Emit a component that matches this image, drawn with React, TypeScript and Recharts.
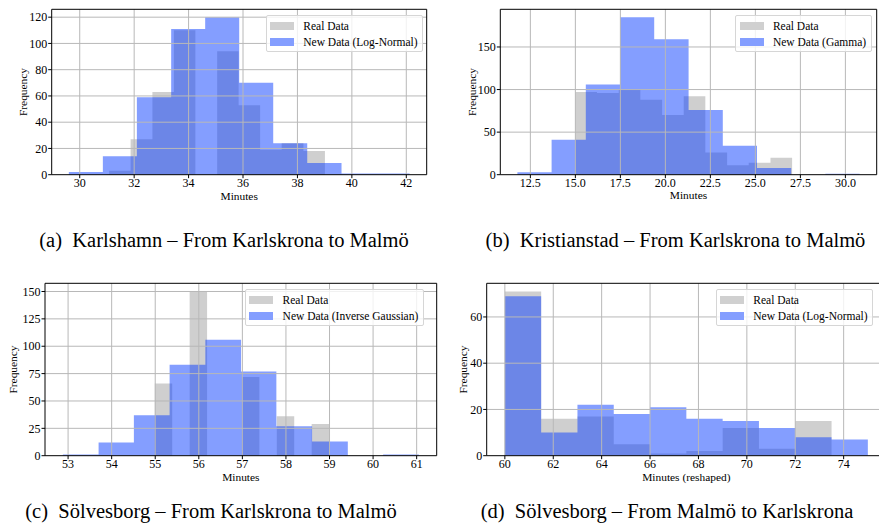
import React from 'react';
import { AreaChart, Area, XAxis, YAxis, ReferenceLine, Label } from 'recharts';

// ---------- data ----------
// (a) Karlshamn
const realEdgesA = [31.08, 31.87, 32.67, 33.46, 34.25, 35.05, 35.84, 36.63, 37.42, 38.22, 39.01];
const realCountsA = [3, 27, 63, 110, 0, 94, 53, 19, 24, 18];
const newEdgesA = [29.6, 30.85, 32.1, 33.36, 34.61, 35.86, 37.11, 38.36, 39.62, 40.87, 42.12];
const newCountsA = [2, 14, 59, 111, 120, 70, 24, 9, 1, 1];
const xTicksA = [30, 32, 34, 36, 38, 40, 42];
const yTicksA = [0, 20, 40, 60, 80, 100, 120];

// (b) Kristianstad
const realEdgesB = [15.0, 16.2, 17.41, 18.61, 19.82, 21.02, 22.22, 23.43, 24.63, 25.84, 27.04];
const realCountsB = [97, 96, 100, 88, 70, 92, 26, 11, 14, 20];
const newEdgesB = [11.78, 13.68, 15.58, 17.48, 19.38, 21.29, 23.19, 25.09, 26.99, 28.89, 30.79];
const newCountsB = [3, 41, 106, 185, 159, 76, 34, 8, 0, 1];
const xTicksB = [12.5, 15, 17.5, 20, 22.5, 25, 27.5, 30];
const yTicksB = [0, 50, 100, 150];

// (c) Sölvesborg – From Karlskrona to Malmö
const realEdgesC = [54.99, 55.39, 55.79, 56.19, 56.59, 56.99, 57.39, 57.79, 58.19, 58.59, 58.99];
const realCountsC = [66, 0, 150, 0, 0, 72, 0, 36, 0, 29];
const newEdgesC = [52.88, 53.7, 54.51, 55.33, 56.15, 56.97, 57.78, 58.6, 59.42, 60.23, 61.05];
const newCountsC = [1, 12, 37, 83, 106, 77, 27, 13, 0, 1];
const xTicksC = [53, 54, 55, 56, 57, 58, 59, 60, 61];
const yTicksC = [0, 25, 50, 75, 100, 125, 150];

// (d) Sölvesborg – From Malmö to Karlskrona
const realEdgesD = [60, 61.5, 63, 64.5, 66, 67.5, 69, 70.5, 72, 73.5, 75];
const realCountsD = [71, 16, 17, 5, 1, 2, 12, 3, 15, 0];
const newEdgesD = [60, 61.5, 63, 64.5, 66, 67.5, 69, 70.5, 72, 73.5, 75];
const newCountsD = [69, 10, 22, 18, 21, 16, 15, 12, 8, 7];
const xTicksD = [60, 62, 64, 66, 68, 70, 72, 74];
const yTicksD = [0, 20, 40, 60];

const captions = [
  '(a)\u00a0\u00a0Karlshamn \u2013 From Karlskrona to Malmö',
  '(b)\u00a0\u00a0Kristianstad \u2013 From Karlskrona to Malmö',
  '(c)\u00a0\u00a0Sölvesborg \u2013 From Karlskrona to Malmö',
  '(d)\u00a0\u00a0Sölvesborg \u2013 From Malmö to Karlskrona',
];

// ---------- helpers ----------
const FONT = '"Liberation Serif", "Times New Roman", "DejaVu Serif", serif';
const REAL_FILL = '#a0a0a0';
const NEW_FILL = '#0a3dff';
const REAL_SWATCH = '#d0d0d0';
const NEW_SWATCH = '#849eff';

function histData(rE: number[], rC: number[], nE: number[], nC: number[]) {
  const xs = Array.from(new Set([...rE, ...nE])).sort((a, b) => a - b);
  const val = (edges: number[], counts: number[], x: number) => {
    for (let i = 0; i < counts.length; i++) {
      if (x >= edges[i] && x < edges[i + 1]) return counts[i];
    }
    return 0;
  };
  return xs.map((x) => ({ x, real: val(rE, rC, x), synth: val(nE, nC, x) }));
}

type Cfg = {
  left: number; top: number; width: number; height: number;
  mt: number; mr: number; yw: number; xh: number;
  xDomain: [number, number]; yMax: number;
  xTicks: number[]; yTicks: number[];
  fmt?: (v: number) => string;
  xLabel: string; yLabelOff: number; xLabelOff: number;
  data: any[]; rightSpine: boolean;
  legend: { left: number; top: number; label: string };
};

const panels: Cfg[] = [
  {
    left: 0, top: 0, width: 440, height: 210, mt: 9.3, mr: 13.3, yw: 51.7, xh: 35.3,
    xDomain: [28.97, 42.75], yMax: 126, xTicks: xTicksA, yTicks: yTicksA,
    xLabel: 'Minutes', yLabelOff: 28.4, xLabelOff: 21,
    data: histData(realEdgesA, realCountsA, newEdgesA, newCountsA), rightSpine: true,
    legend: { left: 265.7, top: 15, label: 'New Data (Log-Normal)' },
  },
  {
    left: 440, top: 0, width: 439, height: 210, mt: 9.3, mr: 2.3, yw: 60.3, xh: 35.3,
    xDomain: [10.83, 31.74], yMax: 194.25, xTicks: xTicksB, yTicks: yTicksB,
    fmt: (v: number) => v.toFixed(1),
    xLabel: 'Minutes', yLabelOff: 28.6, xLabelOff: 20.5,
    data: histData(realEdgesB, realCountsB, newEdgesB, newCountsB), rightSpine: true,
    legend: { left: 735.3, top: 15, label: 'New Data (Gamma)' },
  },
  {
    left: 0, top: 270, width: 440, height: 226, mt: 13.3, mr: 3.3, yw: 45, xh: 40.3,
    xDomain: [52.47, 61.46], yMax: 157.5, xTicks: xTicksC, yTicks: yTicksC,
    xLabel: 'Minutes', yLabelOff: 31.7, xLabelOff: 21,
    data: histData(realEdgesC, realCountsC, newEdgesC, newCountsC), rightSpine: true,
    legend: { left: 245, top: 289.3, label: 'New Data (Inverse Gaussian)' },
  },
  {
    left: 440, top: 270, width: 460, height: 226, mt: 13.3, mr: 14, yw: 46.7, xh: 40.3,
    xDomain: [59.25, 75.75], yMax: 74.55, xTicks: xTicksD, yTicks: yTicksD,
    xLabel: 'Minutes (reshaped)', yLabelOff: 24, xLabelOff: 21,
    data: histData(realEdgesD, realCountsD, newEdgesD, newCountsD), rightSpine: true,
    legend: { left: 715.7, top: 289.3, label: 'New Data (Log-Normal)' },
  },
];

const tickStyle = { fontSize: 12, fill: '#000', fontFamily: FONT };
const labelStyle: React.CSSProperties = { fontSize: 11.4, fill: '#000', fontFamily: FONT };

function Panel({ c }: { c: Cfg }) {
  const xl = (props: any) => {
    const vb = props.viewBox || {};
    return (
      <text x={vb.x + vb.width / 2} y={vb.y + c.xLabelOff} textAnchor="middle" dominantBaseline="central" style={labelStyle}>
        {c.xLabel}
      </text>
    );
  };
  const yl = (props: any) => {
    const vb = props.viewBox || {};
    const x = vb.x + vb.width - c.yLabelOff;
    const y = vb.y + vb.height / 2;
    return (
      <text x={x} y={y} transform={`rotate(-90 ${x} ${y})`} textAnchor="middle" dominantBaseline="central" style={labelStyle}>
        Frequency
      </text>
    );
  };
  return (
    <div style={{ position: 'absolute', left: c.left, top: c.top }}>
      <AreaChart width={c.width} height={c.height} data={c.data} margin={{ top: c.mt, right: c.mr, bottom: 0, left: 0 }}>
        <XAxis
          type="number" dataKey="x" domain={c.xDomain} allowDataOverflow ticks={c.xTicks} interval={0}
          height={c.xh} tickSize={3.5} tickMargin={0} tick={tickStyle} tickFormatter={c.fmt}
          axisLine={{ stroke: '#000', strokeWidth: 1 }} tickLine={{ stroke: '#000' }}
        >
          <Label content={xl} />
        </XAxis>
        <YAxis
          type="number" domain={[0, c.yMax]} allowDataOverflow ticks={c.yTicks} interval={0}
          width={c.yw} tickSize={3.5} tickMargin={1} tick={tickStyle}
          axisLine={{ stroke: '#000', strokeWidth: 1 }} tickLine={{ stroke: '#000' }}
        >
          <Label content={yl} />
        </YAxis>
        <Area type="stepAfter" dataKey="real" fill={REAL_FILL} fillOpacity={0.5} stroke="none" isAnimationActive={false} dot={false} activeDot={false} />
        <Area type="stepAfter" dataKey="synth" fill={NEW_FILL} fillOpacity={0.5} stroke="none" isAnimationActive={false} dot={false} activeDot={false} />
        {c.xTicks.map((t) => (
          <ReferenceLine key={'gx' + t} x={t} stroke="#b8b8b8" strokeWidth={1} />
        ))}
        {c.yTicks.filter((t) => t > 0).map((t) => (
          <ReferenceLine key={'gy' + t} y={t} stroke="#b8b8b8" strokeWidth={1} />
        ))}
        <ReferenceLine y={c.yMax} stroke="#000" strokeWidth={1} />
        {c.rightSpine && <ReferenceLine x={c.xDomain[1]} stroke="#000" strokeWidth={1} />}
      </AreaChart>
    </div>
  );
}

function LegendBox({ left, top, label }: { left: number; top: number; label: string }) {
  const row = (color: string, text: string, y: number) => (
    <div style={{ position: 'absolute', left: 0, top: y, height: 16, display: 'flex', alignItems: 'center', whiteSpace: 'nowrap' }}>
      <div style={{ width: 24, height: 8, background: color, marginLeft: 3.3, marginRight: 9.3 }} />
      <span style={{ fontFamily: FONT, fontSize: 11.5, color: '#000', lineHeight: '16px' }}>{text}</span>
    </div>
  );
  return (
    <div
      style={{
        position: 'absolute', left, top, height: 35, paddingRight: 4.5,
        background: 'rgba(255,255,255,0.8)', border: '1px solid #d6d6d6', borderRadius: 2,
      }}
    >
      <div style={{ position: 'relative', height: 35, visibility: 'hidden', whiteSpace: 'nowrap', fontFamily: FONT, fontSize: 11.5, paddingLeft: 36.6 }}>
        {label}
      </div>
      {row(REAL_SWATCH, 'Real Data', 1.5)}
      {row(NEW_SWATCH, label, 17.5)}
    </div>
  );
}

const captionPos = [
  { x: 224, y: 240 },
  { x: 675.5, y: 240 },
  { x: 211, y: 511 },
  { x: 667, y: 511 },
];

export default function App() {
  return (
    <div style={{ position: 'absolute', left: 0, top: 0, width: 879, height: 526, overflow: 'hidden', background: '#fff' }}>
      {panels.map((p, i) => (
        <Panel key={i} c={p} />
      ))}
      {panels.map((p, i) => (
        <LegendBox key={'l' + i} left={p.legend.left} top={p.legend.top} label={p.legend.label} />
      ))}
      {captions.map((t, i) => (
        <div
          key={'c' + i}
          style={{
            position: 'absolute', left: captionPos[i].x - 250, top: captionPos[i].y - 12, width: 500, height: 24,
            textAlign: 'center', fontFamily: FONT, fontSize: 20.5, lineHeight: '24px', color: '#000', whiteSpace: 'pre',
          }}
        >
          {t}
        </div>
      ))}
    </div>
  );
}
